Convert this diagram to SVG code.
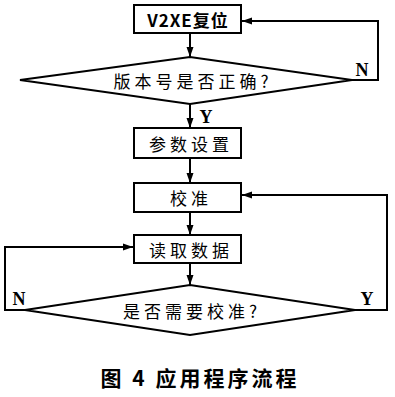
<svg xmlns="http://www.w3.org/2000/svg" width="395" height="397" viewBox="0 0 395 397">
<style>
.b{fill:#fff;stroke:#000;stroke-width:2}
.c{fill:none;stroke:#000;stroke-width:2}
.t{font-family:"Noto Sans CJK SC","Liberation Sans",sans-serif;font-size:17px;text-anchor:middle;dominant-baseline:central;fill:#000;letter-spacing:4px}
.l{font-family:"Liberation Serif",serif;font-size:18px;font-weight:bold;text-anchor:middle;dominant-baseline:central;fill:#000}
.cap{font-family:"Noto Sans CJK SC",sans-serif;font-size:21px;font-weight:bold;text-anchor:middle;dominant-baseline:central;fill:#000;letter-spacing:3px}
</style>
<defs>
<marker id="a" viewBox="0 0 10 10" refX="10" refY="5" markerWidth="5" markerHeight="5" orient="auto" markerUnits="strokeWidth"><path d="M0,1.5 L10,5 L0,8.5 Z" fill="#000"/></marker>
</defs>
<rect width="395" height="397" fill="#fff"/>
<g id="connectors">
<line class="c" x1="190" y1="33" x2="190" y2="57" marker-end="url(#a)"/>
<polyline class="c" points="352,80 378,80 378,21 242,21" marker-end="url(#a)"/>
<line class="c" x1="190" y1="104" x2="190" y2="128" marker-end="url(#a)"/>
<line class="c" x1="190" y1="158" x2="190" y2="183" marker-end="url(#a)"/>
<line class="c" x1="190" y1="212" x2="190" y2="235" marker-end="url(#a)"/>
<line class="c" x1="190" y1="263" x2="190" y2="285" marker-end="url(#a)"/>
<polyline class="c" points="25,310 5,310 5,247 133,247" marker-end="url(#a)"/>
<polyline class="c" points="355,310 387,310 387,195 242,195" marker-end="url(#a)"/>
<text class="l" x="362" y="70">N</text>
<text class="l" x="206" y="117">Y</text>
<text class="l" x="19" y="299">N</text>
<text class="l" x="367" y="299">Y</text>
</g>
<g id="n1"><rect class="b" x="134" y="5" width="107" height="28"/><text class="t" x="188" y="19" style="letter-spacing:1px;font-weight:bold">V2XE复位</text></g>
<g id="n2"><polygon class="b" points="20,80 190,57 352,80 190,104"/><text class="t" x="193" y="80">版本号是否正确?</text></g>
<g id="n3"><rect class="b" x="134" y="128" width="107" height="30"/><text class="t" x="191" y="143">参数设置</text></g>
<g id="n4"><rect class="b" x="134" y="183" width="107" height="29"/><text class="t" x="191" y="197">校准</text></g>
<g id="n5"><rect class="b" x="134" y="235" width="107" height="28"/><text class="t" x="191" y="249">读取数据</text></g>
<g id="n6"><polygon class="b" points="25,310 190,285 355,310 190,335"/><text class="t" x="192" y="310">是否需要校准?</text></g>
<text class="cap" x="200" y="377">图 4  应用程序流程</text>
</svg>
